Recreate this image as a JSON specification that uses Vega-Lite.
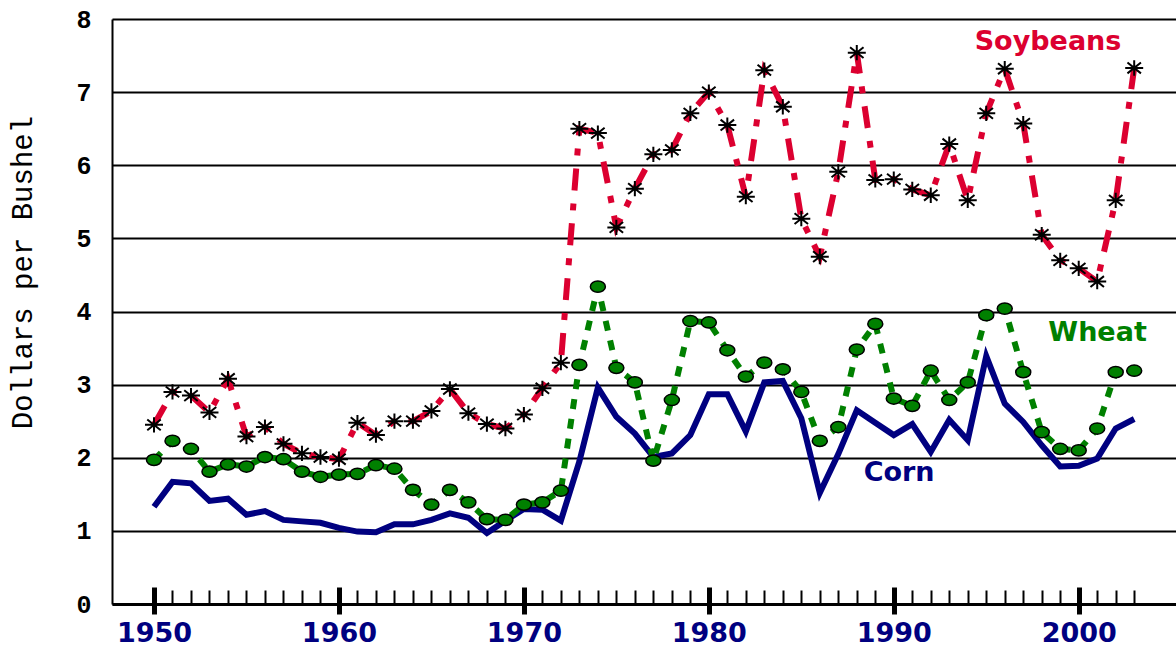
{
  "$schema": "https://vega.github.io/schema/vega-lite/v6.json",
  "width": 1064,
  "height": 585,
  "autosize": {"type": "none"},
  "padding": {"left": 112, "top": 19, "right": 0, "bottom": 44},
  "background": "white",
  "config": {"view": {"stroke": null}},
  "datasets": {
    "prices": [
      {"year": 1950, "corn": 1.33, "wheat": 1.97, "soybeans": 2.45},
      {"year": 1951, "corn": 1.67, "wheat": 2.23, "soybeans": 2.90},
      {"year": 1952, "corn": 1.65, "wheat": 2.12, "soybeans": 2.85},
      {"year": 1953, "corn": 1.41, "wheat": 1.81, "soybeans": 2.62},
      {"year": 1954, "corn": 1.44, "wheat": 1.91, "soybeans": 3.08},
      {"year": 1955, "corn": 1.22, "wheat": 1.88, "soybeans": 2.29},
      {"year": 1956, "corn": 1.27, "wheat": 2.01, "soybeans": 2.42},
      {"year": 1957, "corn": 1.15, "wheat": 1.98, "soybeans": 2.19},
      {"year": 1958, "corn": 1.13, "wheat": 1.81, "soybeans": 2.06},
      {"year": 1959, "corn": 1.11, "wheat": 1.74, "soybeans": 2.01},
      {"year": 1960, "corn": 1.04, "wheat": 1.77, "soybeans": 1.98},
      {"year": 1961, "corn": 0.99, "wheat": 1.78, "soybeans": 2.48},
      {"year": 1962, "corn": 0.98, "wheat": 1.90, "soybeans": 2.31},
      {"year": 1963, "corn": 1.09, "wheat": 1.85, "soybeans": 2.50},
      {"year": 1964, "corn": 1.09, "wheat": 1.56, "soybeans": 2.50},
      {"year": 1965, "corn": 1.15, "wheat": 1.36, "soybeans": 2.64},
      {"year": 1966, "corn": 1.24, "wheat": 1.56, "soybeans": 2.94},
      {"year": 1967, "corn": 1.18, "wheat": 1.39, "soybeans": 2.61},
      {"year": 1968, "corn": 0.97, "wheat": 1.16, "soybeans": 2.46},
      {"year": 1969, "corn": 1.14, "wheat": 1.15, "soybeans": 2.40},
      {"year": 1970, "corn": 1.30, "wheat": 1.36, "soybeans": 2.59},
      {"year": 1971, "corn": 1.29, "wheat": 1.39, "soybeans": 2.95},
      {"year": 1972, "corn": 1.14, "wheat": 1.55, "soybeans": 3.30},
      {"year": 1973, "corn": 1.95, "wheat": 3.27, "soybeans": 6.50},
      {"year": 1974, "corn": 2.96, "wheat": 4.34, "soybeans": 6.44},
      {"year": 1975, "corn": 2.56, "wheat": 3.23, "soybeans": 5.15},
      {"year": 1976, "corn": 2.33, "wheat": 3.03, "soybeans": 5.68},
      {"year": 1977, "corn": 2.01, "wheat": 1.96, "soybeans": 6.15},
      {"year": 1978, "corn": 2.06, "wheat": 2.79, "soybeans": 6.21},
      {"year": 1979, "corn": 2.31, "wheat": 3.87, "soybeans": 6.71},
      {"year": 1980, "corn": 2.87, "wheat": 3.85, "soybeans": 7.00},
      {"year": 1981, "corn": 2.87, "wheat": 3.47, "soybeans": 6.55},
      {"year": 1982, "corn": 2.36, "wheat": 3.11, "soybeans": 5.57},
      {"year": 1983, "corn": 3.03, "wheat": 3.30, "soybeans": 7.30},
      {"year": 1984, "corn": 3.05, "wheat": 3.21, "soybeans": 6.80},
      {"year": 1985, "corn": 2.54, "wheat": 2.90, "soybeans": 5.27},
      {"year": 1986, "corn": 1.52, "wheat": 2.23, "soybeans": 4.75},
      {"year": 1987, "corn": 2.05, "wheat": 2.42, "soybeans": 5.91},
      {"year": 1988, "corn": 2.65, "wheat": 3.48, "soybeans": 7.54},
      {"year": 1989, "corn": 2.48, "wheat": 3.83, "soybeans": 5.80},
      {"year": 1990, "corn": 2.31, "wheat": 2.81, "soybeans": 5.81},
      {"year": 1991, "corn": 2.46, "wheat": 2.71, "soybeans": 5.67},
      {"year": 1992, "corn": 2.08, "wheat": 3.19, "soybeans": 5.59},
      {"year": 1993, "corn": 2.52, "wheat": 2.79, "soybeans": 6.29},
      {"year": 1994, "corn": 2.24, "wheat": 3.03, "soybeans": 5.52},
      {"year": 1995, "corn": 3.39, "wheat": 3.95, "soybeans": 6.71},
      {"year": 1996, "corn": 2.74, "wheat": 4.04, "soybeans": 7.32},
      {"year": 1997, "corn": 2.49, "wheat": 3.17, "soybeans": 6.57},
      {"year": 1998, "corn": 2.17, "wheat": 2.35, "soybeans": 5.05},
      {"year": 1999, "corn": 1.88, "wheat": 2.12, "soybeans": 4.70},
      {"year": 2000, "corn": 1.89, "wheat": 2.10, "soybeans": 4.59},
      {"year": 2001, "corn": 1.99, "wheat": 2.40, "soybeans": 4.41},
      {"year": 2002, "corn": 2.40, "wheat": 3.17, "soybeans": 5.52},
      {"year": 2003, "corn": 2.53, "wheat": 3.19, "soybeans": 7.33}
    ]
  },
  "resolve": {"axis": {"x": "independent", "y": "independent"}},
  "layer": [
    {
      "data": {"name": "prices"},
      "mark": {"type": "line", "color": "#000080", "strokeWidth": 6},
      "encoding": {
        "x": {
          "field": "year", "type": "quantitative",
          "scale": {"domain": [1947.729, 2005.26], "nice": false, "zero": false},
          "axis": {
            "orient": "bottom", "offset": -17, "values": [1950, 1960, 1970, 1980, 1990, 2000],
            "format": "d", "domain": false, "grid": false,
            "ticks": true, "tickSize": 27, "tickWidth": 5, "tickColor": "black",
            "labelFont": "DejaVu Sans", "labelFontSize": 27, "labelFontWeight": "bold",
            "labelColor": "#000080", "labelPadding": 6, "title": null
          }
        },
        "y": {
          "field": "corn", "type": "quantitative",
          "scale": {"domain": [0, 8], "nice": false},
          "axis": {
            "orient": "left", "values": [0, 1, 2, 3, 4, 5, 6, 7, 8],
            "grid": true, "gridColor": "black", "gridWidth": 2, "gridOpacity": 1,
            "domain": true, "domainColor": "black", "domainWidth": 2,
            "ticks": false, "labelPadding": 21,
            "labelFont": "Liberation Mono", "labelFontSize": 25, "labelFontWeight": "bold",
            "labelColor": "black",
            "title": "Dollars per Bushel", "titleFont": "Liberation Mono", "titleFontSize": 29,
            "titleFontWeight": "normal", "titleColor": "black",
            "titleX": -90, "titleY": 253, "titleAlign": "center", "titleBaseline": "middle", "titleAngle": 270
          }
        }
      }
    },
    {
      "data": {"name": "prices"},
      "mark": {"type": "line", "color": "#008000", "strokeWidth": 6, "strokeDash": [10, 10]},
      "encoding": {
        "x": {
          "field": "year", "type": "quantitative",
          "scale": {"domain": [1947.729, 2005.26], "nice": false, "zero": false},
          "axis": {
            "orient": "bottom", "offset": -14,
            "values": [1950, 1951, 1952, 1953, 1954, 1955, 1956, 1957, 1958, 1959, 1960, 1961, 1962, 1963, 1964, 1965, 1966, 1967, 1968, 1969, 1970, 1971, 1972, 1973, 1974, 1975, 1976, 1977, 1978, 1979, 1980, 1981, 1982, 1983, 1984, 1985, 1986, 1987, 1988, 1989, 1990, 1991, 1992, 1993, 1994, 1995, 1996, 1997, 1998, 1999, 2000, 2001, 2002, 2003],
            "domain": false, "grid": false, "labels": false,
            "ticks": true, "tickSize": 14, "tickWidth": 2, "tickColor": "black", "title": null
          }
        },
        "y": {"field": "wheat", "type": "quantitative", "scale": {"domain": [0, 8], "nice": false}, "axis": null}
      }
    },
    {
      "data": {"name": "prices"},
      "mark": {"type": "line", "color": "#DC0030", "strokeWidth": 6, "strokeDash": [22, 13, 7, 13]},
      "encoding": {
        "x": {
          "field": "year", "type": "quantitative",
          "scale": {"domain": [1947.729, 2005.26], "nice": false, "zero": false},
          "axis": {
            "orient": "bottom", "offset": 0, "domain": true, "domainColor": "black", "domainWidth": 3,
            "grid": false, "labels": false, "ticks": false, "title": null
          }
        },
        "y": {"field": "soybeans", "type": "quantitative", "scale": {"domain": [0, 8], "nice": false}, "axis": null}
      }
    },
    {
      "data": {"name": "prices"},
      "mark": {"type": "point", "shape": "M-1,0A1,0.75,0,1,0,1,0A1,0.75,0,1,0,-1,0Z", "size": 225, "filled": true, "fill": "#008000", "fillOpacity": 1, "stroke": "black", "strokeWidth": 1.5, "opacity": 1},
      "encoding": {
        "x": {"field": "year", "type": "quantitative", "scale": {"domain": [1947.729, 2005.26], "nice": false, "zero": false}, "axis": null},
        "y": {"field": "wheat", "type": "quantitative", "scale": {"domain": [0, 8], "nice": false}, "axis": null}
      }
    },
    {
      "data": {"name": "prices"},
      "mark": {"type": "point", "shape": "M-1,0L1,0M0,-0.85L0,0.85M-0.75,-0.6L0.75,0.6M-0.75,0.6L0.75,-0.6", "size": 324, "filled": false, "stroke": "black", "strokeWidth": 2, "opacity": 1},
      "encoding": {
        "x": {"field": "year", "type": "quantitative", "scale": {"domain": [1947.729, 2005.26], "nice": false, "zero": false}, "axis": null},
        "y": {"field": "soybeans", "type": "quantitative", "scale": {"domain": [0, 8], "nice": false}, "axis": null}
      }
    },
    {
      "data": {"values": [{"label": "Soybeans"}]},
      "mark": {"type": "text", "font": "DejaVu Sans", "fontSize": 27, "fontWeight": "bold", "color": "#DC0030", "align": "center", "baseline": "middle"},
      "encoding": {
        "x": {"datum": 1998.34, "type": "quantitative", "scale": {"domain": [1947.729, 2005.26], "nice": false, "zero": false}, "axis": null},
        "y": {"datum": 7.69, "type": "quantitative", "scale": {"domain": [0, 8], "nice": false}, "axis": null},
        "text": {"field": "label"}
      }
    },
    {
      "data": {"values": [{"label": "Wheat"}]},
      "mark": {"type": "text", "font": "DejaVu Sans", "fontSize": 27, "fontWeight": "bold", "color": "#008000", "align": "center", "baseline": "middle"},
      "encoding": {
        "x": {"datum": 2001.02, "type": "quantitative", "scale": {"domain": [1947.729, 2005.26], "nice": false, "zero": false}, "axis": null},
        "y": {"datum": 3.71, "type": "quantitative", "scale": {"domain": [0, 8], "nice": false}, "axis": null},
        "text": {"field": "label"}
      }
    },
    {
      "data": {"values": [{"label": "Corn"}]},
      "mark": {"type": "text", "font": "DejaVu Sans", "fontSize": 27, "fontWeight": "bold", "color": "#000080", "align": "center", "baseline": "middle"},
      "encoding": {
        "x": {"datum": 1990.29, "type": "quantitative", "scale": {"domain": [1947.729, 2005.26], "nice": false, "zero": false}, "axis": null},
        "y": {"datum": 1.79, "type": "quantitative", "scale": {"domain": [0, 8], "nice": false}, "axis": null},
        "text": {"field": "label"}
      }
    }
  ]
}
